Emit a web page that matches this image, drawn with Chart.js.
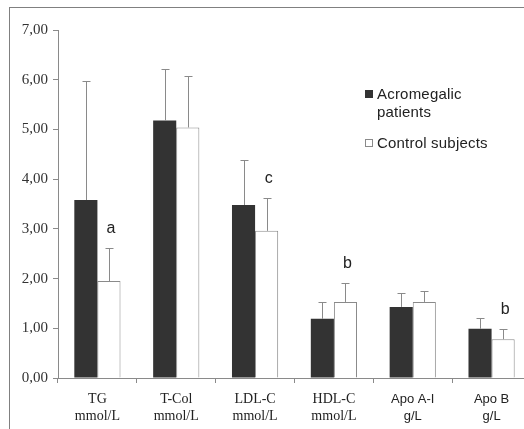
<!DOCTYPE html>
<html>
<head>
<meta charset="utf-8">
<script src="https://cdn.jsdelivr.net/npm/chart.js@4/dist/chart.umd.min.js"></script>
<style>
  html, body { margin: 0; padding: 0; background: #fff; overflow: hidden; }
  #wrap { position: relative; width: 524px; height: 429px; overflow: hidden; }
  #frame { position: absolute; left: 9px; top: 7px; width: 600px; height: 500px;
           border-top: 1px solid #808080; border-left: 1px solid #808080; }
  #myChart { position: absolute; left: 0; top: 0; }
  .lg { position: absolute; font-family: "Liberation Sans", Arial, sans-serif;
        font-size: 15px; color: #222; line-height: 18px; letter-spacing: 0.2px; }
  .sw { position: absolute; width: 8px; height: 8px; box-sizing: border-box; }
</style>
</head>
<body>
<div id="wrap">
  <div id="frame"></div>
  <canvas id="myChart" width="531" height="429"></canvas>
  <div id="legend"></div>
</div>
<script>
var categories = [
  ["TG", "mmol/L"],
  ["T-Col", "mmol/L"],
  ["LDL-C", "mmol/L"],
  ["HDL-C", "mmol/L"],
  ["Apo A-I", "g/L"],
  ["Apo B", "g/L"]
];
var seriesNames = ["Acromegalic\npatients", "Control subjects"];
var patientMeans = [3.58, 5.18, 3.48, 1.19, 1.43, 0.99];
var patientSD = [2.40, 1.03, 0.91, 0.34, 0.28, 0.22];
var controlMeans = [1.95, 5.04, 2.96, 1.53, 1.53, 0.78];
var controlSD = [0.67, 1.03, 0.66, 0.38, 0.22, 0.21];
var controlMarks = ["a", "", "c", "b", "", "b"];
var yTicks = [0, 1, 2, 3, 4, 5, 6, 7];

var serif = "'Liberation Serif', 'Times New Roman', serif";
var sans = "'Liberation Sans', Arial, sans-serif";

// error bars + significance letters
var errorBars = {
  id: "errorBars",
  afterDatasetsDraw: function (chart) {
    var ctx = chart.ctx;
    var y = chart.scales.y;
    ctx.save();
    ctx.strokeStyle = "#8a8a8a";
    ctx.lineWidth = 1;
    chart.data.datasets.forEach(function (ds, di) {
      var meta = chart.getDatasetMeta(di);
      meta.data.forEach(function (bar, i) {
        var x = Math.round(bar.x) + 0.5;
        var top = Math.round(y.getPixelForValue(ds.data[i] + ds.sd[i])) + 0.5;
        ctx.beginPath();
        ctx.moveTo(x, bar.y);
        ctx.lineTo(x, top);
        ctx.moveTo(x - 4, top);
        ctx.lineTo(x + 4, top);
        ctx.stroke();
        if (ds.marks && ds.marks[i]) {
          ctx.fillStyle = "#222";
          ctx.font = "16px " + sans;
          ctx.textAlign = "center";
          ctx.textBaseline = "middle";
          ctx.fillText(ds.marks[i], bar.x + 2, top - 20);
        }
      });
    });
    ctx.restore();
  }
};

function createChart() {
  var ctx = document.getElementById("myChart").getContext("2d");
  new Chart(ctx, {
    type: "bar",
    data: {
      labels: categories,
      datasets: [
        {
          label: seriesNames[0],
          data: patientMeans,
          sd: patientSD,
          backgroundColor: "#333333",
          borderColor: "#333333",
          borderWidth: 0
        },
        {
          label: seriesNames[1],
          data: controlMeans,
          sd: controlSD,
          marks: controlMarks,
          backgroundColor: "#ffffff",
          borderColor: "#8a8a8a",
          borderWidth: 1
        }
      ]
    },
    options: {
      responsive: false,
      animation: false,
      devicePixelRatio: 1,
      categoryPercentage: 0.586,
      barPercentage: 1,
      layout: { padding: { top: 30, left: 0, right: 0, bottom: 0 } },
      plugins: { legend: { display: false }, tooltip: { enabled: false } },
      scales: {
        x: {
          afterFit: function (s) { s.height = 51; },
          grid: { offset: true, drawOnChartArea: false, drawTicks: true, tickLength: 5, color: "#8a8a8a" },
          border: { color: "#8a8a8a" },
          ticks: {
            padding: 8,
            color: "#222",
            font: function (c) {
              return c.index >= 4 ? { family: sans, size: 13, lineHeight: 1.3 } : { family: serif, size: 14, lineHeight: 1.2 };
            }
          }
        },
        y: {
          min: 0,
          max: 7,
          afterFit: function (s) { s.width = 58; },
          afterBuildTicks: function (s) { s.ticks = yTicks.map(function (v) { return { value: v }; }); },
          grid: { drawOnChartArea: false, drawTicks: true, tickLength: 5, color: "#8a8a8a" },
          border: { color: "#8a8a8a" },
          ticks: {
            padding: 5,
            color: "#333",
            font: { family: serif, size: 15 },
            callback: function (v) { return v.toFixed(2).replace(".", ","); }
          }
        }
      }
    },
    plugins: [errorBars]
  });
}

function createLegend() {
  var el = document.getElementById("legend");
  var rows = [
    { top: 85, fill: "#333333", border: "#333333" },
    { top: 134, fill: "#ffffff", border: "#8a8a8a" }
  ];
  rows.forEach(function (r, i) {
    var sw = document.createElement("div");
    sw.className = "sw";
    sw.style.left = "365px";
    sw.style.top = (r.top + 5) + "px";
    sw.style.background = r.fill;
    sw.style.border = "1px solid " + r.border;
    el.appendChild(sw);
    var tx = document.createElement("div");
    tx.className = "lg";
    tx.style.left = "377px";
    tx.style.top = r.top + "px";
    tx.innerHTML = seriesNames[i].replace("\n", "<br>");
    el.appendChild(tx);
  });
}

createChart();
createLegend();
</script>
</body>
</html>
